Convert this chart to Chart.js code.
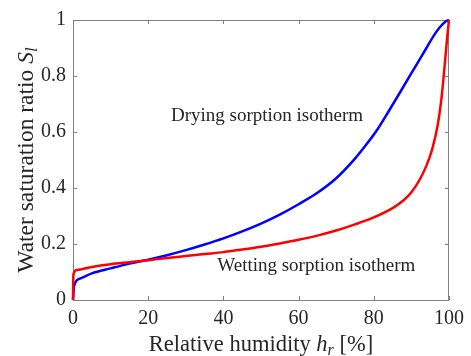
<!DOCTYPE html>
<html>
<head>
<meta charset="utf-8">
<script src="https://cdn.jsdelivr.net/npm/chart.js@4.4.0/dist/chart.umd.min.js"></script>
<style>
  html, body { margin: 0; padding: 0; background: #fff; }
  #wrap { width: 471px; height: 356px; }
</style>
</head>
<body>
<div id="wrap"><canvas id="isothermChart"></canvas></div>
<script>
// relative humidity [%] and water saturation ratio for each branch
const dryingHr = [0, 0.3, 2, 5, 10, 15, 20, 25, 30, 35, 40, 45, 50, 55, 60, 65, 70, 75, 78, 81, 84, 87, 90, 92, 94, 96, 97.5, 99, 100];
const dryingSl = [0, 0.05, 0.077, 0.095, 0.113, 0.13, 0.144, 0.16, 0.178, 0.198, 0.22, 0.245, 0.273, 0.305, 0.342, 0.383, 0.435, 0.505, 0.555, 0.61, 0.675, 0.742, 0.81, 0.855, 0.9, 0.945, 0.973, 0.994, 1];
const wettingHr = [0, 0.1, 1, 5, 10, 15, 20, 25, 30, 35, 40, 45, 50, 55, 60, 65, 70, 75, 80, 85, 88, 90, 92, 94, 95.5, 97, 98, 99, 99.5, 100];
const wettingSl = [0, 0.09, 0.107, 0.118, 0.128, 0.135, 0.142, 0.15, 0.157, 0.164, 0.171, 0.18, 0.19, 0.202, 0.215, 0.23, 0.248, 0.27, 0.295, 0.328, 0.357, 0.385, 0.425, 0.48, 0.537, 0.625, 0.72, 0.86, 0.935, 1];

const hrTicks = [0, 20, 40, 60, 80, 100];
const slTicks = [0, 0.2, 0.4, 0.6, 0.8, 1];

const serif = '"Liberation Serif", "DejaVu Serif", serif';
const tickFont = { family: serif, size: 20 };
const frameColor = '#808080';
const textColor = '#262626';

const toPoints = (xs, ys) => xs.map((x, i) => ({ x: x, y: ys[i] }));

// box around the plot with inward ticks on all four sides
const framePlugin = {
  id: 'frame',
  beforeDatasetsDraw(chart) {
    const { ctx, chartArea: a, scales } = chart;
    const len = 4;
    ctx.save();
    ctx.strokeStyle = frameColor;
    ctx.lineWidth = 1;
    ctx.strokeRect(a.left + 0.5, a.top + 0.5, a.right - a.left - 1, a.bottom - a.top);
    ctx.beginPath();
    hrTicks.forEach(v => {
      const px = Math.round(scales.x.getPixelForValue(v)) + 0.5;
      ctx.moveTo(px, a.bottom); ctx.lineTo(px, a.bottom - len);
      ctx.moveTo(px, a.top); ctx.lineTo(px, a.top + len);
    });
    slTicks.forEach(v => {
      const py = Math.round(scales.y.getPixelForValue(v)) + 0.5;
      ctx.moveTo(a.left, py); ctx.lineTo(a.left + len, py);
      ctx.moveTo(a.right, py); ctx.lineTo(a.right - len, py);
    });
    ctx.stroke();
    ctx.restore();
  }
};

// draws a run of text pieces with their own fonts and vertical shifts, centred on x
function drawRich(ctx, parts, x, y) {
  let total = 0;
  parts.forEach(p => { ctx.font = p.font; total += ctx.measureText(p.text).width; });
  let cx = x - total / 2;
  parts.forEach(p => {
    ctx.font = p.font;
    ctx.fillText(p.text, cx, y + (p.dy || 0));
    cx += ctx.measureText(p.text).width;
  });
}

const labelsPlugin = {
  id: 'labels',
  afterDraw(chart) {
    const { ctx, chartArea: a, scales } = chart;
    ctx.save();
    ctx.fillStyle = textColor;
    ctx.textBaseline = 'alphabetic';
    ctx.textAlign = 'left';

    // x axis title
    drawRich(ctx, [
      { text: 'Relative humidity ', font: '22.5px ' + serif },
      { text: 'h', font: 'italic 22.5px ' + serif },
      { text: 'r', font: 'italic 16px ' + serif, dy: 4 },
      { text: ' [%]', font: '22.5px ' + serif }
    ], (a.left + a.right) / 2, 351);

    // y axis title
    ctx.save();
    ctx.translate(33, (a.top + a.bottom) / 2);
    ctx.rotate(-Math.PI / 2);
    drawRich(ctx, [
      { text: 'Water saturation ratio ', font: '23.5px ' + serif },
      { text: 'S', font: 'italic 23.5px ' + serif },
      { text: 'l', font: 'italic 17px ' + serif, dy: 4 }
    ], 0, 0);
    ctx.restore();

    // branch names
    ctx.textAlign = 'center';
    ctx.font = '19px ' + serif;
    ctx.fillText('Drying sorption isotherm', scales.x.getPixelForValue(51.6), scales.y.getPixelForValue(0.64));
    ctx.fillText('Wetting sorption isotherm', scales.x.getPixelForValue(64.7), scales.y.getPixelForValue(0.105));
    ctx.restore();
  }
};

new Chart(document.getElementById('isothermChart').getContext('2d'), {
  type: 'scatter',
  data: {
    datasets: [{
      label: 'Wetting sorption isotherm',
      data: toPoints(wettingHr, wettingSl),
      showLine: true,
      borderColor: '#ff0000',
      borderWidth: 2.5,
      pointRadius: 0,
      cubicInterpolationMode: 'monotone',
      clip: false
    }, {
      label: 'Drying sorption isotherm',
      data: toPoints(dryingHr, dryingSl),
      showLine: true,
      borderColor: '#0000ff',
      borderWidth: 2.5,
      pointRadius: 0,
      cubicInterpolationMode: 'monotone',
      clip: false
    }]
  },
  options: {
    responsive: true,
    maintainAspectRatio: false,
    animation: false,
    layout: { padding: { top: 20, right: 21, left: 0, bottom: 0 } },
    plugins: {
      legend: { display: false },
      tooltip: { enabled: false }
    },
    scales: {
      x: {
        type: 'linear',
        min: 0,
        max: 100,
        afterBuildTicks: s => { s.ticks = hrTicks.map(v => ({ value: v })); },
        afterFit: s => { s.height = 56; },
        grid: { display: false, drawTicks: false },
        border: { display: false },
        ticks: { color: textColor, font: tickFont, padding: 7, maxRotation: 0 }
      },
      y: {
        type: 'linear',
        min: 0,
        max: 1,
        afterBuildTicks: s => { s.ticks = slTicks.map(v => ({ value: v })); },
        afterFit: s => { s.width = 73; },
        grid: { display: false, drawTicks: false },
        border: { display: false },
        ticks: { color: textColor, font: tickFont, padding: 7, callback: v => String(+v.toFixed(1)) }
      }
    }
  },
  plugins: [framePlugin, labelsPlugin]
});
</script>
</body>
</html>
